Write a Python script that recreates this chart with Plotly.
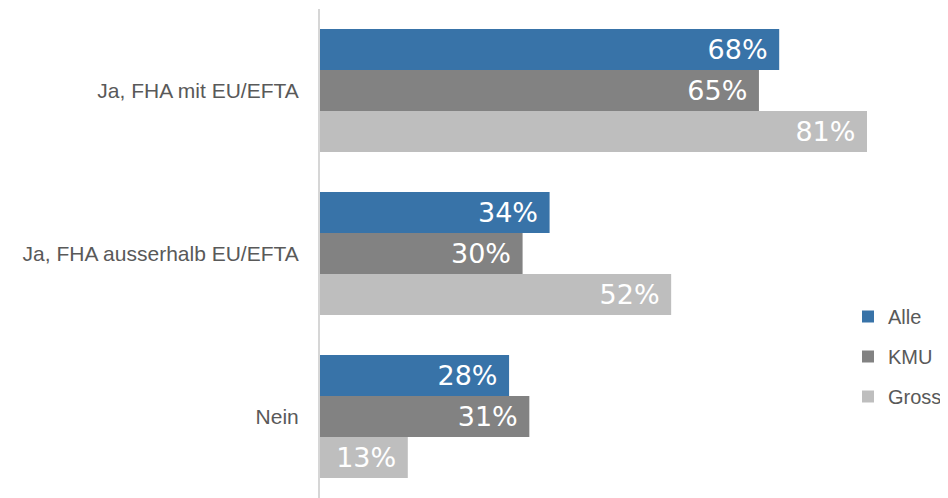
import plotly.graph_objects as go

categories = ["Ja, FHA mit EU/EFTA", "Ja, FHA ausserhalb EU/EFTA", "Nein"]
series_names = ["Alle", "KMU", "Gross"]
alle = [68, 34, 28]
kmu = [65, 30, 31]
gross = [81, 52, 13]
colors = ["#3873A8", "#828282", "#BEBEBE"]

fig = go.Figure()
for i, (name, vals) in enumerate(zip(series_names, [alle, kmu, gross])):
    fig.add_trace(go.Bar(
        y=categories,
        x=[v / 100 for v in vals],
        name=name,
        orientation="h",
        marker=dict(color=colors[i], line=dict(width=0)),
        text=[f"{v}%\u00a0" for v in vals],
        textposition="inside",
        insidetextanchor="end",
        textfont=dict(color="white", size=27, family="DejaVu Sans"),
        legendgroup=name,
        cliponaxis=False,
    ))

W, H = 940, 490
L, R, T, B = 312, 54, 1, 0
PH = H - T - B
fig.update_layout(
    width=W,
    height=H,
    barmode="group",
    bargap=0.245,
    bargroupgap=0,
    plot_bgcolor="white",
    paper_bgcolor="white",
    margin=dict(l=L, r=R, t=T, b=B, autoexpand=False),
    xaxis=dict(
        range=[0, 0.85],
        showgrid=False,
        zeroline=False,
        showticklabels=False,
        showline=False,
        fixedrange=True,
    ),
    yaxis=dict(
        autorange=False,
        range=[2.5, -0.5],
        showgrid=False,
        zeroline=False,
        showline=True,
        linecolor="#D6D6D6",
        linewidth=2,
        ticks="",
        ticklabelstandoff=15,
        tickfont=dict(family="Liberation Sans", size=21, color="#595959"),
    ),
    legend=dict(
        x=(840 - L) / (W - L - R),
        xanchor="left",
        y=1 - (289 - T) / PH,
        yanchor="top",
        font=dict(family="Liberation Sans", size=20, color="#595959"),
        tracegroupgap=11,
        bgcolor="rgba(0,0,0,0)",
        itemwidth=30,
    ),
    showlegend=True,
)

fig.write_html("out.html")
